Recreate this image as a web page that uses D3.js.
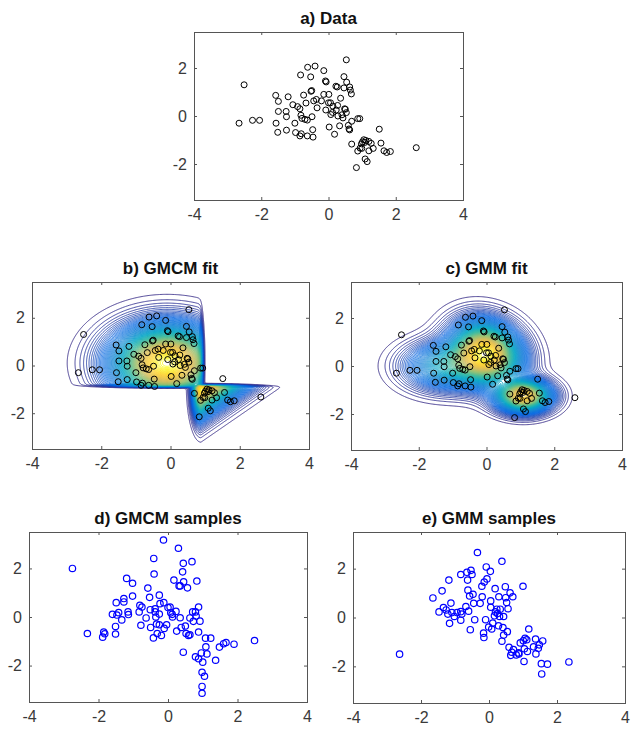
<!DOCTYPE html>
<html>
<head>
<meta charset="utf-8">
<script src="https://cdn.jsdelivr.net/npm/d3@7"></script>
<style>
  body { margin: 0; background: #fff; }
  svg text { font-family: "Liberation Sans", Arial, Helvetica, sans-serif; }
</style>
</head>
<body>
<svg id="fig" width="631" height="731"></svg>
<script>
// observed data (panel a, also shown over the fits in b and c)
var dataX = [-2.51, -2.66, -2.26, -2.05, -1.57, -1.49, -1.56, -1.51, -1.49, -1.20, -1.26, -1.25, -1.25, -1.06, -1.00,
  -0.98, -0.92, -0.83, -0.85, -0.82, -0.79, -0.85, -0.81, -0.74, -0.67, -0.62, -0.63, -0.63, -0.53, -0.52, -0.50,
  -0.49, -0.47, -0.46, -0.40, -0.44, -0.36, -0.34, -0.21, -0.14, -0.14, -0.09, -0.07, -0.08, 0.01, 0.00, 0.02, 0.06,
  0.07, 0.13, 0.18, 0.22, 0.26, 0.23, 0.28, 0.27, 0.36, 0.33, 0.43, 0.46, 0.46, 0.48, 0.50, 0.53, 0.54, 0.53, 0.59,
  0.61, 0.63, 0.65, 0.68, 0.69, 0.69, 0.63, 0.87, 0.93, 0.83, 0.87, 0.94, 0.98, 1.01, 1.05, 1.08, 1.11, 1.09, 1.15,
  1.20, 1.20, 1.27, 1.33, 1.51, 1.56, 1.65, 1.73, 1.84, 2.61, 0.99, -0.70, 0.12, 0.40];
var dataY = [1.30, -0.30, -0.18, -0.18, 0.86, 0.61, -0.30, -0.68, 0.19, 0.80, 0.19, -0.03, -0.59, 0.47, -0.30,
  -0.69, 0.39, 1.71, 0.30, 0.03, -0.10, -0.83, -0.74, 0.87, 0.54, 2.03, -0.17, -0.83, 1.63, 1.03, 1.06,
  -0.03, -0.57, -0.88, 2.08, 0.63, 0.69, 0.34, 0.63, 1.89, 0.90, 1.46, 1.42, 0.25, 0.90, 0.55, -0.46, 0.55,
  0.06, 0.41, -0.76, 1.24, 1.21, 0.25, 0.00, 0.44, 0.74, -0.41, -0.08, 1.64, 1.17, 0.30, 0.28, 2.34, 1.41, 0.14, -0.39,
  -0.54, 1.21, 1.08, 0.92, -1.17, -0.22, -0.58, -0.11, -0.11, -2.15, -1.46, -1.34, -1.16, -1.08, -0.99, -1.10, -1.02, -1.79, -1.90,
  -1.06, -1.45, -1.14, -1.35, -0.55, -1.13, -1.45, -1.52, -1.48, -1.32, -1.35, -0.14, 0.15, 0.05];

// samples drawn from the GMCM fit (panel d)
var gmcmX = [-2.75, -2.32, -1.88, -1.85, -1.82, -1.60, -1.51, -1.51, -1.49, -1.47, -1.42, -1.33, -1.27, -1.27, -1.19,
  -1.15, -1.14, -1.02, -1.02, -0.83, -0.81, -0.78, -0.75, -0.63, -0.58, -0.53, -0.51, -0.50, -0.41, -0.40, -0.42,
  -0.37, -0.35, -0.33, -0.31, -0.25, -0.25, -0.25, -0.19, -0.23, -0.13, -0.12, -0.11, -0.04, 0.00, 0.06, 0.08, 0.12,
  0.13, 0.17, 0.23, 0.25, 0.30, 0.32, 0.35, 0.35, 0.38, 0.42, 0.44, 0.45, 0.44, 0.50, 0.52, 0.56, 0.59, 0.63, 0.63,
  0.69, 0.71, 0.73, 0.79, 0.79, 0.83, 0.88, 0.88, 0.88, 0.92, 0.96, 0.98, 0.98, 0.98, 1.00, 1.05, 1.08, 1.09, 1.12,
  1.23, 1.37, 1.48, 1.60, 1.67, 1.90, 2.49, 0.81, -0.37];
var gmcmY = [2.00, -0.68, -0.83, -0.62, -0.69, 0.11, -0.70, -0.39, 0.59, 0.08, 0.18, -0.12, 0.76, 0.62, 1.59,
  0.21, 0.10, 1.39, 0.86, 0.21, 0.48, -0.34, 0.41, -0.04, 1.19, 0.81, 0.30, -0.43, 2.41, 1.77, -0.86,
  0.34, 0.00, -0.29, -0.68, 0.90, 0.12, -0.32, -0.76, 0.55, 3.17, 0.59, -0.47, -0.32, 0.39, 0.41, 0.17, 0.11,
  0.00, 1.52, 0.23, -0.58, 2.83, 1.28, 1.28, -0.03, -0.43, 1.86, 2.21, 1.45, -1.45, -0.37, -0.68, 1.20, -0.76, -0.73, -0.04,
  2.28, 0.21, -0.18, 0.21, -1.64, 1.48, -0.62, 0.41, -1.72, -0.17, -1.48, -2.28, -2.86, -3.14, -1.86, -2.44, -0.87, -1.23, -1.52,
  -0.87, -1.78, -1.24, -1.10, -1.05, -1.12, -0.97, 0.04, 0.21];

// samples drawn from the GMM fit (panel e)
var gmmX = [-2.63, -1.65, -1.47, -1.38, -1.34, -1.26, -1.21, -1.18, -1.16, -1.12, -1.09, -1.02, -0.94, -0.83, -0.83,
  -0.83, -0.80, -0.68, -0.63, -0.62, -0.60, -0.65, -0.55, -0.57, -0.53, -0.50, -0.47, -0.45, -0.42, -0.34, -0.26,
  -0.21, -0.20, -0.16, -0.15, -0.14, -0.10, -0.08, -0.06, -0.01, 0.04, 0.05, 0.05, 0.08, 0.11, 0.16, 0.18, 0.19,
  0.23, 0.25, 0.28, 0.29, 0.31, 0.33, 0.38, 0.38, 0.41, 0.43, 0.43, 0.48, 0.49, 0.52, 0.54, 0.56, 0.59, 0.62, 0.64,
  0.70, 0.72, 0.80, 0.88, 0.92, 1.00, 1.01, 1.03, 1.04, 1.06, 1.11, 1.13, 1.17, 1.31, 1.37, 1.38, 1.45, 1.48, 1.54,
  1.58, 1.55, 1.72, 2.35, 0.67, 0.87];
var gmmY = [-1.50, 0.80, 0.23, 1.09, 0.41, 0.31, 0.14, 1.53, -0.24, 0.59, 0.20, 0.04, 0.20, 0.24, 1.76,
  -0.11, 0.14, 0.45, 1.53, 1.12, 0.26, 1.85, -0.50, 0.88, 1.93, 1.76, 0.95, 0.58, -0.09, 2.66, 0.58,
  1.28, 0.85, -0.64, -0.82, 1.45, -0.09, 2.07, 1.58, -0.39, 1.89, 0.68, 0.42, -0.47, -0.23, 0.07, 1.18, 0.23,
  0.34, 0.16, -0.34, 0.85, 0.04, 0.34, 2.30, -0.97, -0.41, -0.72, 0.04, 1.26, 0.81, 0.61, -0.58, 0.36, -1.22, 1.01, -1.55,
  0.85, -1.31, -1.53, -1.49, -1.04, 1.28, -0.95, -1.80, -1.28, -0.85, -0.91, -1.39, -0.47, -1.20, -0.88, -1.49, -1.26, -1.12, -1.89,
  -0.96, -2.31, -1.91, -1.82, -1.42, -1.45];

// fitted GMM components (panel c)
var gmmWeight = [0.45, 0.18, 0.17];
var gmmMeanX = [0.0, -1.15, 1.1];
var gmmMeanY = [0.55, 0.0, -1.25];
var gmmSdX = [0.62, 0.76, 0.48];
var gmmSdY = [0.78, 0.6, 0.4];
var gmmRho = [-0.15, 0.0, 0.0];

// GMCM fit (panel b): upper block and lower wedge split at the copula cut
var gmcmCut = [0.9, -0.86];
var gmcmUpperMean = [-0.1, 0.1];
var gmcmUpperSd = 0.95;
var gmcmLowerScale = 0.78;
var gmcmLowerFan = 0.14;
var gmcmWeight = [1.0, 0.95];

var xDomain = [-4, 4], yDomain = [-3.5, 3.5];
var xTicks = [-4, -2, 0, 2, 4], yTicks = [-2, 0, 2];

var parula = ["#352a87", "#0363e1", "#1485d4", "#06a7c6", "#38b99e", "#92bf73", "#d9ba56", "#fcce2e", "#f9fb0e"];

var svg = d3.select("#fig");
var axisColor = "#555", textColor = "#3a3a3a";

function makePanel(left, right, top, bottom) {
    var p = {left: left, right: right, top: top, bottom: bottom};
    p.x = d3.scaleLinear().domain(xDomain).range([left, right]);
    p.y = d3.scaleLinear().domain(yDomain).range([bottom, top]);
    p.g = svg.append("g");
    return p;
}

function finishPanel(p, title) {
    var g = p.g;
    var fmt = function (d) { return String(d); };
    function style(sel) {
        sel.select(".domain").remove();
        sel.attr("font-family", null).attr("font-size", null);
        sel.selectAll("line").attr("stroke", axisColor);
        sel.selectAll("text").attr("fill", textColor).style("font-size", "16px");
    }
    g.append("g").attr("transform", "translate(0," + p.bottom + ")")
        .call(d3.axisBottom(p.x).tickValues(xTicks).tickFormat(fmt).tickSize(-3).tickPadding(9)).call(style);
    g.append("g").attr("transform", "translate(0," + p.top + ")")
        .call(d3.axisTop(p.x).tickValues(xTicks).tickSize(-3).tickFormat("")).call(style);
    g.append("g").attr("transform", "translate(" + p.left + ",0)")
        .call(d3.axisLeft(p.y).tickValues(yTicks).tickFormat(fmt).tickSize(-3).tickPadding(7)).call(style);
    g.append("g").attr("transform", "translate(" + p.right + ",0)")
        .call(d3.axisRight(p.y).tickValues(yTicks).tickSize(-3).tickFormat("")).call(style);
    g.append("rect")
        .attr("x", p.left + 0.5).attr("y", p.top + 0.5)
        .attr("width", p.right - p.left).attr("height", p.bottom - p.top)
        .attr("fill", "none").attr("stroke", axisColor).attr("stroke-width", 1);
    g.append("text")
        .attr("x", (p.left + p.right) / 2).attr("y", p.top - 8)
        .attr("text-anchor", "middle").attr("font-weight", "bold")
        .style("font-size", "17px").attr("fill", "#111")
        .text(title);
}

function drawPoints(p, xs, ys, color, r, sw) {
    p.g.append("g").selectAll("circle")
        .data(xs.map(function (d, i) { return [d, ys[i]]; }))
        .enter().append("circle")
        .attr("cx", function (d) { return p.x(d[0]); })
        .attr("cy", function (d) { return p.y(d[1]); })
        .attr("r", r)
        .attr("fill", "none")
        .attr("stroke", color)
        .attr("stroke-width", sw);
}

function drawContours(p, density, nLevels) {
    var step = 0.025;
    var nx = Math.round((xDomain[1] - xDomain[0]) / step) + 1;
    var ny = Math.round((yDomain[1] - yDomain[0]) / step) + 1;
    var values = new Float64Array(nx * ny);
    for (var j = 0; j < ny; j++) {
        for (var i = 0; i < nx; i++) {
            values[j * nx + i] = density(xDomain[0] + i * step, yDomain[1] - j * step);
        }
    }
    var vmax = d3.max(values);
    var levels = d3.range(1, nLevels).map(function (k) { return k * vmax / nLevels; });
    var color = d3.scaleLinear()
        .domain(parula.map(function (c, i) { return levels[0] + (levels[levels.length - 1] - levels[0]) * i / (parula.length - 1); }))
        .range(parula);
    var proj = d3.geoTransform({
        point: function (gx, gy) {
            this.stream.point(p.x(xDomain[0] + (gx - 0.5) * step), p.y(yDomain[1] - (gy - 0.5) * step));
        }
    });
    var path = d3.geoPath(proj);
    p.g.append("g").selectAll("path")
        .data(d3.contours().size([nx, ny]).thresholds(levels)(values))
        .enter().append("path")
        .attr("d", path)
        .attr("fill", "none")
        .attr("stroke", function (d) { return color(d.value); })
        .attr("stroke-width", 0.9);
}

function soft(t, w) { return 1 / (1 + Math.exp(-t / w)); }

function gmmDensity(x, y) {
    var s = 0;
    for (var k = 0; k < gmmWeight.length; k++) {
        var zx = (x - gmmMeanX[k]) / gmmSdX[k], zy = (y - gmmMeanY[k]) / gmmSdY[k], r = gmmRho[k];
        var q = (zx * zx - 2 * r * zx * zy + zy * zy) / (1 - r * r);
        s += gmmWeight[k] / (2 * Math.PI * gmmSdX[k] * gmmSdY[k] * Math.sqrt(1 - r * r)) * Math.exp(-q / 2);
    }
    return s;
}

function gmcmDensity(x, y) {
    var dx = x - gmcmUpperMean[0], dy = y - gmcmUpperMean[1];
    var upper = gmcmWeight[0] * Math.exp(-(dx * dx + dy * dy) / (2 * gmcmUpperSd * gmcmUpperSd))
        * soft(gmcmCut[0] - x, 0.025) * soft(y - gmcmCut[1], 0.025);
    var u = x - gmcmCut[0] + 0.02, v = gmcmCut[1] - y;
    var t = (Math.max(u, 0) + Math.max(v, 0)) / gmcmLowerScale;
    var lower = gmcmWeight[1] * Math.exp(-t * t / 2) * soft(v, 0.025);
    if (u < 0) lower *= Math.exp(-(u / gmcmLowerFan) * (u / gmcmLowerFan) / 2);
    return upper + lower;
}

// a) data
var pa = makePanel(194, 463, 32, 200);
drawPoints(pa, dataX, dataY, "#000", 3, 1);
finishPanel(pa, "a) Data");

// b) GMCM fit
var pb = makePanel(32, 309, 282, 449);
drawContours(pb, gmcmDensity, 100);
drawPoints(pb, dataX, dataY, "#000", 3, 1);
finishPanel(pb, "b) GMCM fit");

// c) GMM fit
var pc = makePanel(351, 622, 282, 450);
drawContours(pc, gmmDensity, 100);
drawPoints(pc, dataX, dataY, "#000", 3, 1);
finishPanel(pc, "c) GMM fit");

// d) GMCM samples
var pd = makePanel(29, 307, 532, 702);
drawPoints(pd, gmcmX, gmcmY, "#0000ff", 3.2, 1.2);
finishPanel(pd, "d) GMCM samples");

// e) GMM samples
var pe = makePanel(353, 625, 532, 703);
drawPoints(pe, gmmX, gmmY, "#0000ff", 3.2, 1.2);
finishPanel(pe, "e) GMM samples");
</script>
</body>
</html>
